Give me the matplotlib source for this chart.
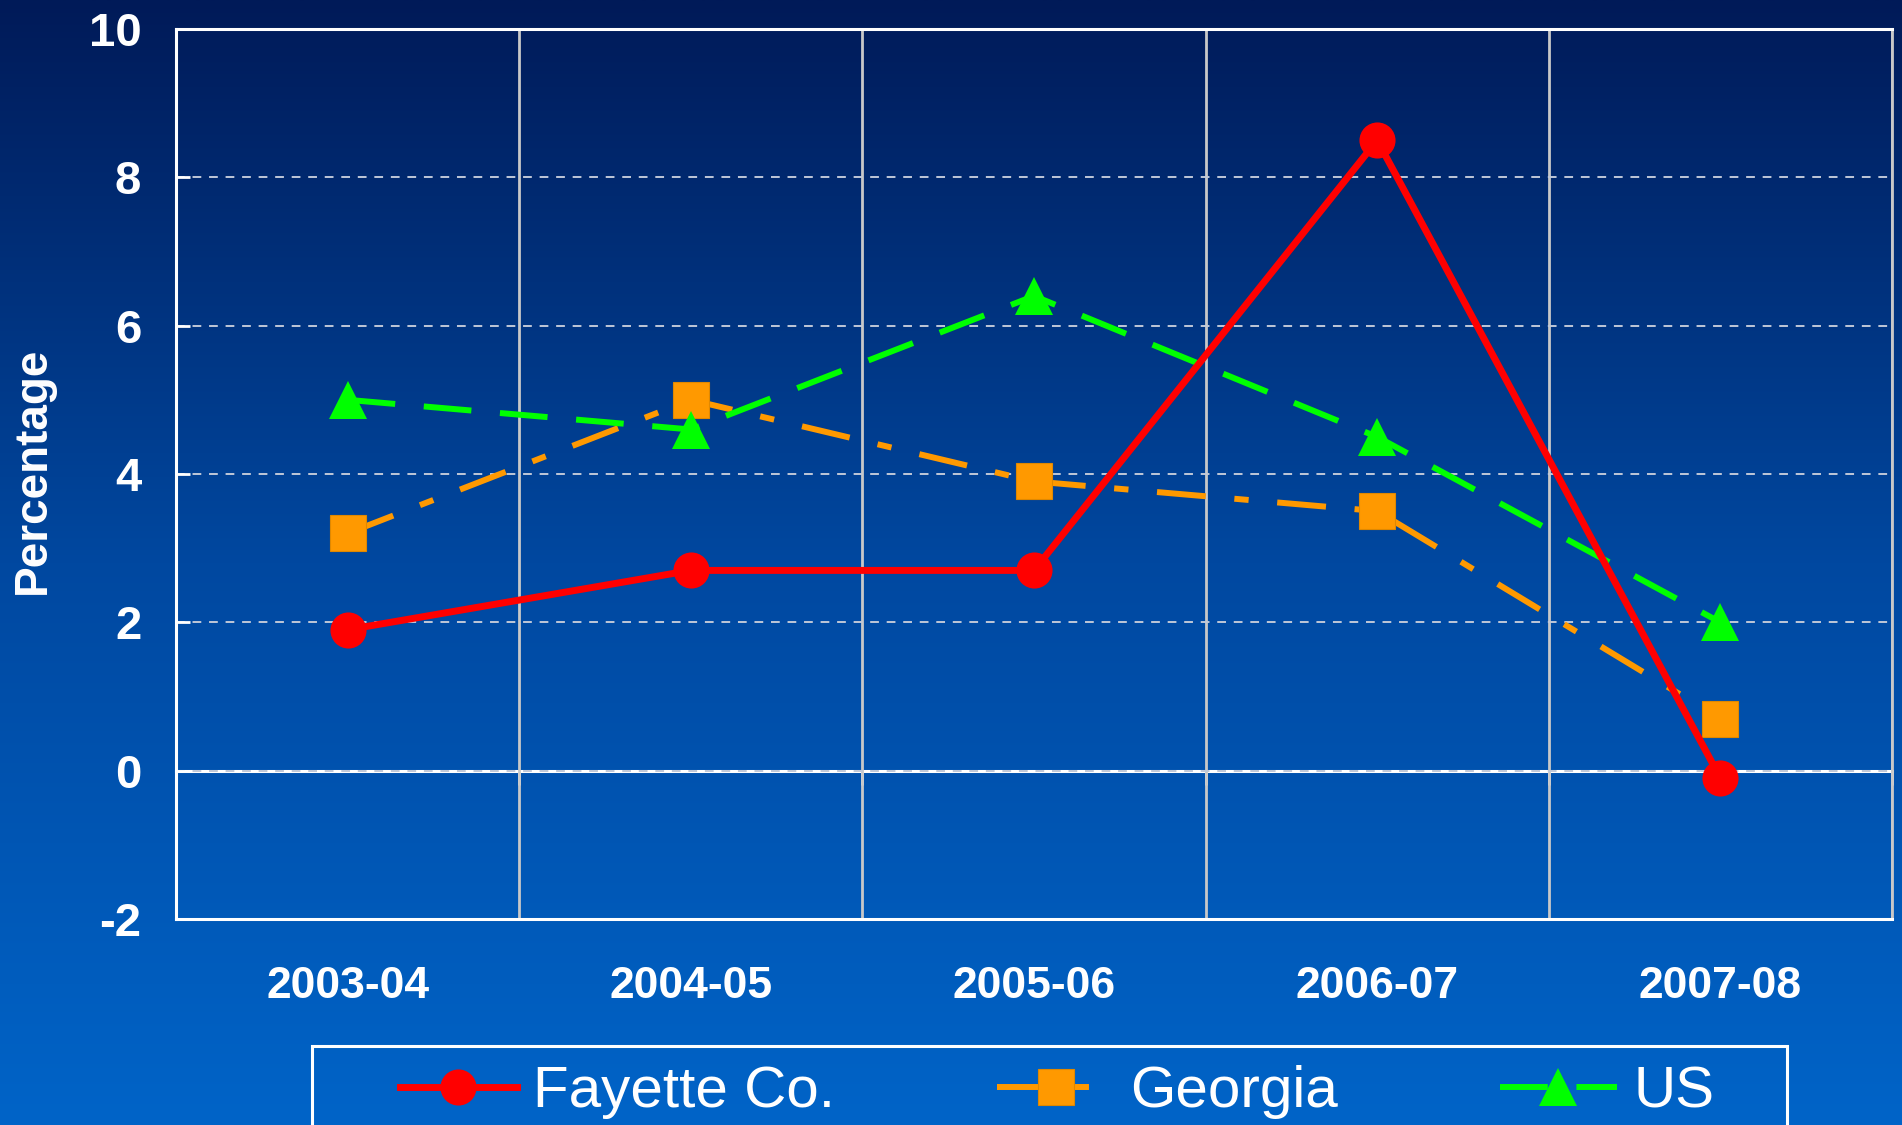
import numpy as np
import matplotlib
matplotlib.use("Agg")
import matplotlib.pyplot as plt
from matplotlib import font_manager as fm
from matplotlib.patches import Rectangle

# ---- data ----
categories = ["2003-04", "2004-05", "2005-06", "2006-07", "2007-08"]
fayette = [1.9, 2.7, 2.7, 8.5, -0.1]
georgia = [3.2, 5.0, 3.9, 3.5, 0.7]
us = [5.0, 4.6, 6.4, 4.5, 2.0]
series_names = ["Fayette Co.", "Georgia", "US"]
y_ticks = [-2, 0, 2, 4, 6, 8, 10]

names = {f.name for f in fm.fontManager.ttflist}
base = "Liberation Sans" if "Liberation Sans" in names else "DejaVu Sans"
narrow = "Liberation Sans Narrow" if "Liberation Sans Narrow" in names else None
plt.rcParams["font.family"] = [base, "DejaVu Sans"]
plt.rcParams["axes.unicode_minus"] = False

W, H = 1902, 1125
fig = plt.figure(figsize=(W / 100, H / 100), dpi=100)

# background gradient
bg = fig.add_axes([0, 0, 1, 1], zorder=-10)
t = np.linspace(0, 1, 512)[:, None]
top = np.array([0, 26, 88]) / 255
mid = np.array([0, 72, 160]) / 255
bot = np.array([0, 100, 200]) / 255
grad = np.where(t < 0.5, top + (mid - top) * (t / 0.5), mid + (bot - mid) * ((t - 0.5) / 0.5))
img = np.repeat(grad[:, None, :], 2, axis=1)
bg.imshow(img, aspect="auto", extent=[0, 1, 0, 1], interpolation="bilinear")
bg.axis("off")

left, right, topy, boty = 176, 1892, 29, 919
ax = fig.add_axes([left / W, 1 - boty / H, (right - left) / W, (boty - topy) / H])
ax.set_facecolor("none")

x = np.arange(len(categories))
ylo, yhi = -2, 10
ax.set_xlim(-0.5, len(categories) - 0.5)
ax.set_ylim(ylo, yhi)

# gridlines
ax.set_xticks(x, categories)
ax.set_xticks(np.arange(-0.5, len(categories)), minor=True)
ax.set_yticks(y_ticks)
ax.grid(which="minor", axis="x", color="#c8c8c8", lw=2.0, ls="-")
ax.grid(which="major", axis="x", visible=False)
ax.grid(which="major", axis="y", color="#c0c8d8", lw=1.4, ls=(0, (4.5, 4)))
ax.set_axisbelow(True)

ax.tick_params(axis="x", which="both", length=0, pad=34, labelsize=32,
               labelcolor="white")
for lab in ax.get_xticklabels():
    lab.set_fontweight("bold")
ax.tick_params(axis="y", which="major", direction="in", length=10, width=2,
               color="white", pad=25, labelsize=34, labelcolor="white")
for lab in ax.get_yticklabels():
    lab.set_fontweight("bold")

for s in ["top", "left", "bottom"]:
    ax.spines[s].set_color("white")
    ax.spines[s].set_linewidth(2.2)
ax.spines["right"].set_color("#c8c8c8")
ax.spines["right"].set_linewidth(2.0)

# zero axis with tick marks
sec = ax.secondary_xaxis((0 - ylo) / (yhi - ylo))
sec.set_xticks(np.arange(-0.5, len(categories)))
sec.tick_params(axis="x", direction="out", length=10, width=2, color="white",
                labelbottom=False, labeltop=False)
for s in sec.spines.values():
    s.set_color("white")
    s.set_linewidth(2.2)

# series
lg, = ax.plot(x, georgia, color="#ff9900", lw=4.3, ls=(0, (8.2, 4.8, 2.4, 4.8)),
              marker="s", ms=26, mfc="#ff9900", mec="#e08800", mew=0.8,
              zorder=3, label=series_names[1])
lu, = ax.plot(x, us, color="#00ff00", lw=4.3, ls=(0, (8.0, 4.8)),
              marker="^", ms=28, mfc="#00ff00", mec="#00ff00", mew=0,
              zorder=4, label=series_names[2])
lf, = ax.plot(x, fayette, color="#ff0000", lw=5, ls="-",
              marker="o", ms=26, mfc="#ff0000", mec="#ff0000", mew=0,
              zorder=5, label=series_names[0])

fig.text(33 / W, 1 - 470 / H, "Percentage", rotation=90, color="white",
         fontsize=33, fontweight="bold", ha="center", va="center")

# legend
leg_font = dict(family=[narrow, base] if narrow else [base], size=46 if narrow else 42)
leg = fig.legend([lf, lg, lu], series_names, loc="center left",
                 bbox_to_anchor=(400 / W, 1 - 1092 / H), ncol=3,
                 frameon=False, prop=leg_font, handlelength=2.0,
                 handletextpad=0.28, columnspacing=2.78, borderpad=0,
                 borderaxespad=0, labelcolor="white", markerscale=1.0)

fig.add_artist(Rectangle((312 / W, -0.05), (1787 - 312) / W, 0.05 + 1 - 1046 / H,
                         transform=fig.transFigure, fill=False,
                         edgecolor="white", lw=2.2))

fig.savefig("out.png", dpi=100)
